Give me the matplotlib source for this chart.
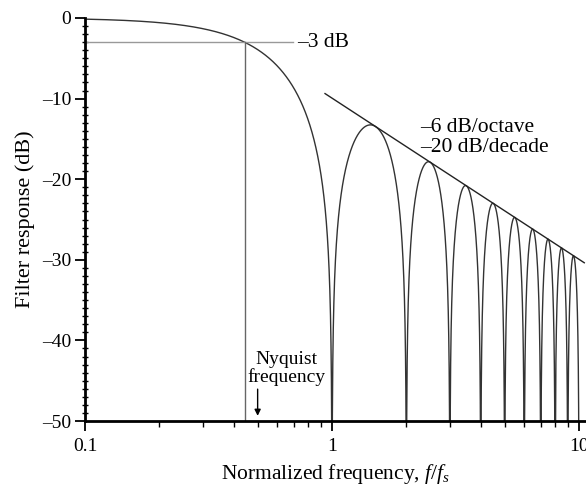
import numpy as np
import matplotlib
matplotlib.use("Agg")
import matplotlib.pyplot as plt
from matplotlib.ticker import FixedLocator, NullFormatter, MultipleLocator

plt.rcParams['font.family'] = ['Liberation Serif', 'DejaVu Serif']
plt.rcParams['mathtext.fontset'] = 'custom'
plt.rcParams['mathtext.it'] = 'Liberation Serif:italic'
plt.rcParams['mathtext.rm'] = 'Liberation Serif'

# Values
x_min, x_max = 0.1, 10.67
y_min, y_max = -50, 0
f_end = 10
null_freqs = [1, 2, 3, 4, 5, 6, 7, 8, 9, 10]
cutoff_freq = 0.443
cutoff_db = -3
nyquist_freq = 0.5
envelope_f = [0.937, 10.5]
x_ticks = [0.1, 1, 10]
x_tick_labels = ['0.1', '1', '10']
y_ticks = [0, -10, -20, -30, -40, -50]
y_tick_labels = ['0', '–10', '–20', '–30', '–40', '–50']

# Sinc response (sample-and-hold filter)
f = np.unique(np.concatenate([np.logspace(-1, np.log10(f_end), 6000), np.array(null_freqs, float)]))
resp = 20 * np.log10(np.abs(np.sinc(f)) + 1e-12)
resp = np.maximum(resp, -60)
env_db = [-20 * np.log10(np.pi * e) for e in envelope_f]

fig = plt.figure(figsize=(5.86, 4.86), dpi=100)
ax = fig.add_axes([0.145, 0.1337, 0.855, 0.8293])
ax.set_xscale('log')
ax.plot(f, resp, color='#333333', lw=1.0)
ax.plot(envelope_f, env_db, color='#222222', lw=1.0)
ax.plot([x_min, 0.695], [cutoff_db, cutoff_db], color='#999999', lw=1.0)
ax.plot([cutoff_freq, cutoff_freq], [y_min, cutoff_db], color='#666666', lw=1.0)

ax.set_xlim(x_min, x_max)
ax.set_ylim(y_min, y_max)

ax.text(0.72, cutoff_db, '–3 dB', va='center', ha='left', fontsize=15.5)
ax.text(2.27, -14.8, '–6 dB/octave\n–20 dB/decade', va='center', ha='left', fontsize=15.5, linespacing=1.05)
ax.text(0.657, -45.7, 'Nyquist\nfrequency', ha='center', va='bottom', fontsize=14, linespacing=1.0)
ax.annotate('', xy=(nyquist_freq, -49.7), xytext=(nyquist_freq, -45.7),
            arrowprops=dict(arrowstyle='-|>', color='black', lw=1.0, mutation_scale=9))

for s in ['top', 'right']:
    ax.spines[s].set_visible(False)
for s in ['left', 'bottom']:
    ax.spines[s].set_linewidth(2.0)

ax.xaxis.set_major_locator(FixedLocator(x_ticks))
ax.set_xticklabels(x_tick_labels)
ax.xaxis.set_minor_locator(FixedLocator([0.2, 0.3, 0.4, 0.5, 0.6, 0.7, 0.8, 0.9, 2, 3, 4, 5, 6, 7, 8, 9]))
ax.xaxis.set_minor_formatter(NullFormatter())
ax.set_yticks(y_ticks)
ax.set_yticklabels(y_tick_labels)
ax.yaxis.set_minor_locator(MultipleLocator(1))
ax.tick_params(axis='both', which='major', direction='out', length=7, width=1.3, labelsize=14)
ax.tick_params(axis='x', which='minor', direction='out', length=4, width=1.0)
ax.tick_params(axis='y', which='minor', direction='inout', length=5, width=1.0)
ax.tick_params(axis='y', which='major', pad=3)
ax.tick_params(axis='x', which='major', pad=5)

ax.set_xlabel('Normalized frequency, $f/f_s$', fontsize=15.5, labelpad=5)
ax.set_ylabel('Filter response (dB)', fontsize=16, labelpad=5)

fig.savefig('out.png', dpi=100)
